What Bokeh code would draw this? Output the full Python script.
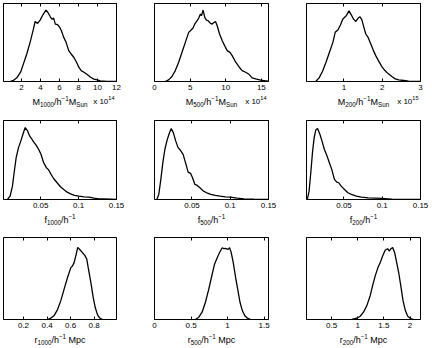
from bokeh.plotting import figure
from bokeh.layouts import column, row
from bokeh.models import (Range1d, FixedTicker, LinearAxis, CustomJSTickFormatter, ColumnDataSource,
                          CustomLabelingPolicy)
from bokeh.core.properties import value
from bokeh.embed import file_html
from bokeh.resources import INLINE

# ---------------- data (relative posterior densities) ----------------
m1000_x = [0.8, 1.13, 1.5, 1.9, 2.2, 2.55, 2.9, 3.25, 3.43, 3.68, 3.96, 4.25, 4.57, 4.78, 5.03, 5.2, 5.38,
           5.56, 5.8, 6.02, 6.2, 6.44, 6.69, 6.97, 7.22, 7.5, 7.79, 8.03, 8.28, 8.57, 8.92, 9.27, 9.63,
           9.98, 10.3, 11.0, 12.0]
m1000_pdf = [0, 0.013, 0.047, 0.119, 0.226, 0.353, 0.502, 0.672, 0.77, 0.745, 0.787, 0.855, 0.915, 0.885,
             0.83, 0.8, 0.813, 0.736, 0.728, 0.694, 0.651, 0.566, 0.502, 0.396, 0.353, 0.311, 0.247, 0.183,
             0.14, 0.119, 0.089, 0.055, 0.03, 0.021, 0.009, 0, 0]

m500_x = [1.5, 1.98, 2.45, 2.92, 3.39, 3.86, 4.33, 4.8, 5.04, 5.41, 5.65, 5.98, 6.21, 6.45, 6.59, 6.82, 7.06,
          7.29, 7.53, 7.86, 8.09, 8.33, 8.56, 8.8, 9.13, 9.51, 9.84, 10.2, 10.6, 10.9, 11.4, 11.9, 12.3,
          12.8, 13.3, 13.7, 14.2, 14.9, 15.6, 16.0]
m500_pdf = [0, 0.021, 0.064, 0.14, 0.247, 0.374, 0.502, 0.63, 0.651, 0.685, 0.736, 0.779, 0.813, 0.864, 0.843,
            0.915, 0.821, 0.787, 0.779, 0.745, 0.736, 0.757, 0.77, 0.715, 0.609, 0.523, 0.46, 0.396, 0.374,
            0.332, 0.247, 0.183, 0.14, 0.119, 0.089, 0.047, 0.034, 0.017, 0.009, 0.004]

m200_x = [0.26, 0.35, 0.44, 0.53, 0.62, 0.71, 0.77, 0.84, 0.91, 0.97, 1.01, 1.06, 1.13, 1.19, 1.25, 1.31,
          1.37, 1.42, 1.47, 1.52, 1.57, 1.63, 1.7, 1.77, 1.83, 1.9, 1.99, 2.07, 2.16, 2.25, 2.34, 2.43,
          2.56, 2.69, 3.0]
m200_pdf = [0, 0.047, 0.132, 0.247, 0.374, 0.502, 0.63, 0.66, 0.728, 0.8, 0.821, 0.843, 0.906, 0.855, 0.8,
            0.77, 0.813, 0.83, 0.787, 0.694, 0.609, 0.566, 0.481, 0.396, 0.332, 0.268, 0.191, 0.14, 0.098,
            0.064, 0.034, 0.021, 0.013, 0.004, 0]

f1000_x = [0.0062, 0.0097, 0.0128, 0.015, 0.0177, 0.0208, 0.0239, 0.0266, 0.0296, 0.0327, 0.0354, 0.0385,
           0.0407, 0.0442, 0.0473, 0.0504, 0.054, 0.0575, 0.0606, 0.0637, 0.0673, 0.0717, 0.0761, 0.0805,
           0.085, 0.0894, 0.0947, 0.1004, 0.107, 0.1137, 0.1204, 0.127, 0.1336, 0.1425, 0.15]
f1000_pdf = [0, 0.042, 0.169, 0.339, 0.53, 0.657, 0.742, 0.826, 0.911, 0.869, 0.805, 0.763, 0.729, 0.686,
             0.636, 0.572, 0.466, 0.403, 0.373, 0.318, 0.263, 0.212, 0.161, 0.127, 0.093, 0.072, 0.051,
             0.042, 0.034, 0.03, 0.017, 0.008, 0.008, 0.004, 0]

f500_x = [0.004, 0.0066, 0.0093, 0.0119, 0.0146, 0.0172, 0.0199, 0.0229, 0.0256, 0.0287, 0.0318, 0.0349,
          0.0384, 0.0415, 0.045, 0.0481, 0.0507, 0.0538, 0.0569, 0.0604, 0.0649, 0.0693, 0.0746, 0.0803,
          0.0869, 0.0935, 0.1001, 0.109, 0.1178, 0.131, 0.15]
f500_pdf = [0, 0.064, 0.254, 0.466, 0.636, 0.742, 0.826, 0.898, 0.847, 0.742, 0.657, 0.623, 0.572, 0.466,
            0.347, 0.331, 0.275, 0.191, 0.178, 0.148, 0.106, 0.085, 0.064, 0.051, 0.042, 0.034, 0.03, 0.017,
            0.008, 0.004, 0]

f200_x = [0.0022, 0.0044, 0.0066, 0.0088, 0.011, 0.0132, 0.0154, 0.0185, 0.0212, 0.0243, 0.0278, 0.0309,
          0.034, 0.0375, 0.0406, 0.0432, 0.0463, 0.0507, 0.0551, 0.0596, 0.0662, 0.0728, 0.0816, 0.0904,
          0.0993, 0.1125, 0.1301, 0.15]
f200_pdf = [0.008, 0.106, 0.339, 0.593, 0.784, 0.881, 0.898, 0.826, 0.742, 0.636, 0.551, 0.466, 0.381, 0.254,
            0.22, 0.212, 0.169, 0.127, 0.085, 0.064, 0.042, 0.03, 0.021, 0.017, 0.013, 0.004, 0, 0]

r1000_x = [0.404, 0.432, 0.46, 0.489, 0.517, 0.545, 0.574, 0.602, 0.616, 0.63, 0.644, 0.661, 0.681, 0.701,
           0.721, 0.738, 0.752, 0.772, 0.792, 0.809, 0.829, 0.848, 0.871]
r1000_pdf = [0, 0.016, 0.048, 0.121, 0.23, 0.371, 0.512, 0.633, 0.653, 0.694, 0.774, 0.879, 0.847, 0.815,
             0.782, 0.734, 0.613, 0.452, 0.27, 0.149, 0.056, 0.016, 0]

r500_x = [0.56, 0.606, 0.651, 0.697, 0.743, 0.789, 0.821, 0.858, 0.894, 0.927, 0.95, 0.972, 1.005, 1.028,
          1.05, 1.078, 1.11, 1.142, 1.17, 1.202, 1.234, 1.271, 1.317]
r500_pdf = [0, 0.028, 0.089, 0.21, 0.371, 0.552, 0.673, 0.754, 0.823, 0.875, 0.863, 0.867, 0.855, 0.875,
            0.815, 0.694, 0.512, 0.351, 0.21, 0.109, 0.048, 0.016, 0]

r200_x = [0.886, 0.982, 1.046, 1.11, 1.174, 1.238, 1.283, 1.334, 1.386, 1.431, 1.475, 1.527, 1.572, 1.604,
          1.636, 1.668, 1.706, 1.738, 1.783, 1.828, 1.866, 1.911, 1.956, 2.008, 2.072]
r200_pdf = [0, 0.016, 0.04, 0.089, 0.169, 0.29, 0.411, 0.532, 0.633, 0.694, 0.774, 0.847, 0.863, 0.835,
            0.863, 0.879, 0.815, 0.714, 0.573, 0.391, 0.23, 0.109, 0.04, 0.012, 0]

# axis limits and ticks
m1000_lim, m1000_ticks = (0.1, 12.0), [2, 4, 6, 8, 10, 12]
m500_lim, m500_ticks = (0.0, 16.0), [0, 5, 10, 15]
m200_lim, m200_ticks = (0.02, 3.0), [1, 2, 3]
f_lim, f_ticks = (0.001, 0.15), [0.05, 0.1, 0.15]
r1000_lim, r1000_ticks = (0.03, 0.99), [0.2, 0.4, 0.6, 0.8]
r500_lim, r500_ticks = (0.0, 1.56), [0, 0.5, 1, 1.5]
r200_lim, r200_ticks = (0.02, 2.2), [0.5, 1, 1.5, 2]

# axis label texts: (text, kind) with kind 0 normal, -1 subscript, 1 superscript
lab_m1000 = [("M", 0), ("1000", -1), ("/h", 0), ("\u22121", 1), ("M", 0), ("Sun", -1)]
lab_m500 = [("M", 0), ("500", -1), ("/h", 0), ("\u22121", 1), ("M", 0), ("Sun", -1)]
lab_m200 = [("M", 0), ("200", -1), ("/h", 0), ("\u22121", 1), ("M", 0), ("Sun", -1)]
lab_f1000 = [("f", 0), ("1000", -1), ("/h", 0), ("\u22121", 1)]
lab_f500 = [("f", 0), ("500", -1), ("/h", 0), ("\u22121", 1)]
lab_f200 = [("f", 0), ("200", -1), ("/h", 0), ("\u22121", 1)]
lab_r1000 = [("r", 0), ("1000", -1), ("/h", 0), ("\u22121", 1), (" Mpc", 0)]
lab_r500 = [("r", 0), ("500", -1), ("/h", 0), ("\u22121", 1), (" Mpc", 0)]
lab_r200 = [("r", 0), ("200", -1), ("/h", 0), ("\u22121", 1), (" Mpc", 0)]
exp14 = [("x 10", 0), ("14", 1)]
exp15 = [("x 10", 0), ("15", 1)]

# ---------------- helpers ----------------
FONT = "Liberation Sans"
ARIAL = {"M": 833, "/": 278, "h": 556, "\u2212": 584, "S": 667, "u": 556, "n": 556, "x": 500, " ": 278,
         "f": 278, "r": 333, "p": 556, "c": 500}
BIG, SMALL, EXP_BIG, EXP_SMALL = 9, 6.3, 8, 5.6
BASE = {0: 8.0, -1: 10.5, 1: 5.0}      # baseline (px from top of label strip)
EXP_BASE = {0: 8.0, 1: 4.5}


def text_width(s, size):
    return sum(ARIAL.get(ch, 556) for ch in s) * size / 1000.0


def pieces_to_rows(pieces, x, anchor, big, small, base, right_pad=0):
    sizes = [big if k == 0 else small for _, k in pieces]
    widths = [text_width(t, s) for (t, k), s in zip(pieces, sizes)]
    total = sum(widths)
    off = -total / 2.0 if anchor == "center" else -total - right_pad
    out = []
    for (t, k), s, w in zip(pieces, sizes, widths):
        lead = len(t) - len(t.lstrip(" "))
        shown = t.lstrip(" ")
        out.append((x, base[k], shown, off + text_width(" " * lead, s), f"{s}px"))
        off += w
    return out


fmt = CustomJSTickFormatter(code="return String(Math.round(tick*1000)/1000)")
no_labels = CustomLabelingPolicy(code="return new Set()")


def panel(xs, ys, lim, ticks, fw, fh, bl, br, bt, bb):
    p = figure(frame_width=fw, frame_height=fh, min_border_left=bl, min_border_right=br,
               min_border_top=bt, min_border_bottom=bb, x_range=Range1d(*lim), y_range=Range1d(0, 1),
               y_axis_type=None, output_backend="svg", toolbar_location=None,
               background_fill_color="white", border_fill_color="white")
    p.xgrid.visible = False
    p.ygrid.visible = False
    p.outline_line_color = "black"
    p.outline_line_alpha = 1.0
    p.outline_line_width = 1
    bottom = p.xaxis[0]
    top = LinearAxis()
    p.add_layout(top, "above")
    for ax in (bottom, top):
        ax.ticker = FixedTicker(ticks=ticks)
        ax.major_tick_in = 3
        ax.major_tick_out = 0
        ax.minor_tick_in = 0
        ax.minor_tick_out = 0
        ax.axis_line_color = "black"
        ax.major_tick_line_color = "black"
        ax.formatter = fmt
    bottom.major_label_text_font = FONT
    bottom.major_label_text_font_size = "8px"
    bottom.major_label_text_color = "black"
    bottom.major_label_standoff = 3
    top.major_label_text_font_size = "0px"
    top.major_label_standoff = 0
    top.major_label_policy = no_labels
    p.line(xs, ys, line_color="black", line_width=1.3)
    return p


def strip(lim, label, expo, fw, H, bl, br):
    p = figure(frame_width=fw, frame_height=H, min_border_left=bl, min_border_right=br,
               min_border_top=0, min_border_bottom=0, x_range=Range1d(*lim), y_range=Range1d(H, 0),
               x_axis_type=None, y_axis_type=None, output_backend="svg", toolbar_location=None,
               background_fill_color="white", border_fill_color="white", outline_line_color=None)
    cx = (lim[0] + lim[1]) / 2.0
    rows_ = pieces_to_rows(label, cx, "center", BIG, SMALL, BASE)
    if expo is not None:
        rows_ += pieces_to_rows(expo, lim[1], "right", EXP_BIG, EXP_SMALL, EXP_BASE, right_pad=2)
    src = ColumnDataSource(dict(x=[r[0] for r in rows_], y=[r[1] for r in rows_], t=[r[2] for r in rows_],
                                xo=[r[3] for r in rows_], fs=[r[4] for r in rows_]))
    p.text(x="x", y="y", text="t", x_offset="xo", text_font_size="fs", source=src,
           text_font=value(FONT), text_color="black", text_align="left", text_baseline="alphabetic")
    return p


cols = [dict(fw=113, bl=3, br=25), dict(fw=114, bl=13, br=25), dict(fw=114, bl=13, br=11)]
rows = [dict(fh=78, bt=3, bb=12), dict(fh=79, bt=8, bb=12), dict(fh=82, bt=8, bb=12)]
strip_h = [19, 18, 16]

specs = [
    [(m1000_x, m1000_pdf, m1000_lim, m1000_ticks, lab_m1000, exp14),
     (m500_x, m500_pdf, m500_lim, m500_ticks, lab_m500, exp14),
     (m200_x, m200_pdf, m200_lim, m200_ticks, lab_m200, exp15)],
    [(f1000_x, f1000_pdf, f_lim, f_ticks, lab_f1000, None),
     (f500_x, f500_pdf, f_lim, f_ticks, lab_f500, None),
     (f200_x, f200_pdf, f_lim, f_ticks, lab_f200, None)],
    [(r1000_x, r1000_pdf, r1000_lim, r1000_ticks, lab_r1000, None),
     (r500_x, r500_pdf, r500_lim, r500_ticks, lab_r500, None),
     (r200_x, r200_pdf, r200_lim, r200_ticks, lab_r200, None)],
]

blocks = []
for ri, rspec in enumerate(specs):
    figs, strips = [], []
    for ci, (xs, ys, lim, ticks, label, expo) in enumerate(rspec):
        c, r = cols[ci], rows[ri]
        figs.append(panel(xs, ys, lim, ticks, c["fw"], r["fh"], c["bl"], c["br"], r["bt"], r["bb"]))
        strips.append(strip(lim, label, expo, c["fw"], strip_h[ri], c["bl"], c["br"]))
    blocks.append(row(*figs, spacing=0))
    blocks.append(row(*strips, spacing=0))

layout = column(*blocks, spacing=0)

open("out.html", "w").write(file_html(layout, INLINE))
